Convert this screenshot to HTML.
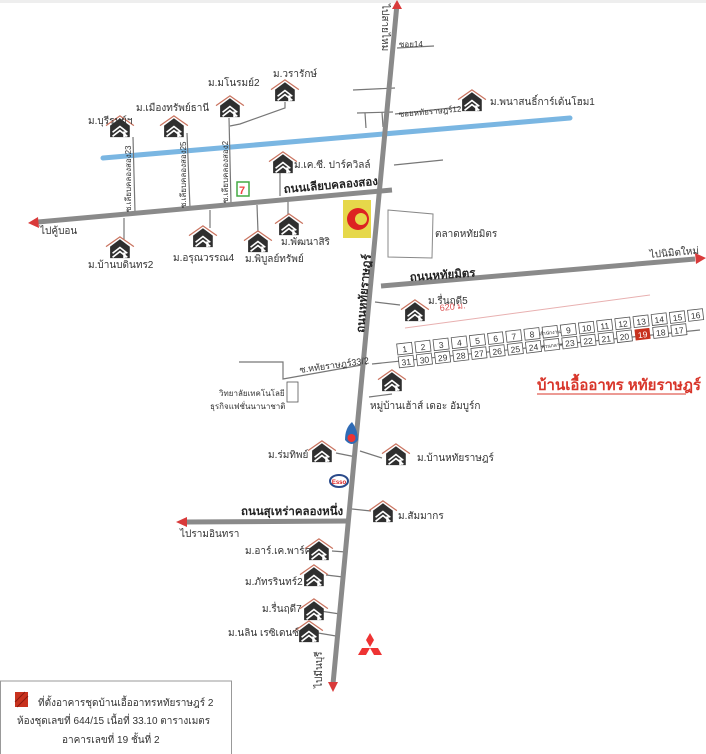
<!DOCTYPE html>
<html><head><meta charset="utf-8"><style>
html,body{margin:0;padding:0;background:#fff;}
svg{display:block;font-family:"Liberation Sans","Noto Sans CJK SC",sans-serif;}
.t{font-size:10px;fill:#333;}
.r{font-size:11.5px;fill:#222;font-weight:bold;}
.b{fill:#fff;stroke:#555;stroke-width:.8;}
.n{font-size:8.5px;fill:#333;text-anchor:middle;}
.c{stroke:#777;stroke-width:1.2;fill:none;}
</style></head><body>
<svg width="706" height="754" viewBox="0 0 706 754" xmlns="http://www.w3.org/2000/svg">
<defs>
<g id="h"><g transform="translate(3,3) scale(.82)">
<polyline points="0,13 17,1 34,13" fill="none" stroke="#c9735f" stroke-width="1.5"/>
<polygon points="5,13 17,4 29,13 29,27 5,27" fill="#2f2f2f"/>
<polyline points="8,21 17,14 26,21" fill="none" stroke="#fff" stroke-width="2"/>
<polyline points="8,26 17,19 26,26" fill="none" stroke="#fff" stroke-width="2"/>
<rect x="21" y="20" width="3" height="7" fill="#fff"/>
</g></g>
</defs>
<rect x="0" y="0" width="706" height="3" fill="#eee"/>
<line x1="103" y1="158" x2="570" y2="118" stroke="#7ab6e2" stroke-width="5" stroke-linecap="round"/>
<g class="c">
<line x1="133" y1="137" x2="135" y2="212"/>
<line x1="187" y1="133" x2="190" y2="208"/>
<line x1="229" y1="118" x2="231" y2="203"/>
<polyline points="285,102 285,108 240,124 230,126"/>
<line x1="353" y1="90" x2="395" y2="88"/>
<line x1="397" y1="48" x2="434" y2="46"/>
<line x1="395" y1="114" x2="460" y2="107"/>
<line x1="357" y1="113" x2="393" y2="112"/>
<line x1="365" y1="113" x2="366" y2="128"/>
<line x1="382" y1="112" x2="383" y2="127"/>
<line x1="394" y1="165" x2="443" y2="160"/>
<line x1="280" y1="168" x2="280" y2="196"/>
<line x1="124" y1="218" x2="124" y2="240"/>
<line x1="210" y1="210" x2="210" y2="228"/>
<line x1="257" y1="205" x2="258" y2="232"/>
<line x1="288" y1="200" x2="288" y2="215"/>
<line x1="375" y1="302" x2="400" y2="305"/>
<polyline points="239,362 283,362 283,379 367,364"/>
<line x1="372" y1="364" x2="700" y2="330"/>
<line x1="369" y1="397" x2="392" y2="394"/>
<line x1="336" y1="453" x2="356" y2="457"/>
<line x1="360" y1="451" x2="382" y2="458"/>
<line x1="352" y1="509" x2="371" y2="511"/>
<line x1="332" y1="551" x2="346" y2="552"/>
<line x1="326" y1="575" x2="343" y2="577"/>
<line x1="320" y1="611" x2="340" y2="614"/>
<line x1="318" y1="633" x2="336" y2="636"/>
</g>
<rect x="287" y="382" width="11" height="20" class="b"/>
<polygon points="388,210 433,214 432,258 388,257" fill="#fff" stroke="#888" stroke-width="1"/>
<g stroke="#8a8a8a" stroke-width="5" fill="none">
<line x1="397" y1="4" x2="333" y2="684"/>
<line x1="38" y1="222" x2="392" y2="190"/>
<line x1="381" y1="286" x2="695" y2="259"/>
<line x1="186" y1="522" x2="350" y2="521"/>
</g>
<g fill="#d93a3a">
<polygon points="397,0 392,9 402,9"/>
<polygon points="28,223 38,217 39,228"/>
<polygon points="706,258 695,253 696,264"/>
<polygon points="176,522 187,517 187,527"/>
<polygon points="333,692 328,682 338,682"/>
</g>
<use href="#h" x="103" y="112"/>
<use href="#h" x="157" y="112"/>
<use href="#h" x="213" y="92"/>
<use href="#h" x="268" y="76"/>
<use href="#h" x="266" y="148"/>
<use href="#h" x="455" y="86"/>
<use href="#h" x="103" y="233"/>
<use href="#h" x="186" y="222"/>
<use href="#h" x="241" y="227"/>
<use href="#h" x="272" y="210"/>
<use href="#h" x="398" y="296"/>
<use href="#h" x="375" y="366"/>
<use href="#h" x="305" y="437"/>
<use href="#h" x="379" y="440"/>
<use href="#h" x="366" y="497"/>
<use href="#h" x="302" y="535"/>
<use href="#h" x="297" y="561"/>
<use href="#h" x="297" y="595"/>
<use href="#h" x="292" y="617"/>
<g class="t">
<text x="88" y="124">ม.บุรีรมย์ฯ</text>
<text x="136" y="111">ม.เมืองทรัพย์ธานี</text>
<text x="208" y="86">ม.มโนรมย์2</text>
<text x="273" y="77">ม.วรารักษ์</text>
<text x="294" y="168">ม.เค.ซี. ปาร์ควิลล์</text>
<text x="490" y="105">ม.พนาสนธิ์การ์เด้นโฮม1</text>
<text x="88" y="268">ม.บ้านบดินทร2</text>
<text x="173" y="261">ม.อรุณวรรณ4</text>
<text x="245" y="262">ม.พิบูลย์ทรัพย์</text>
<text x="281" y="245">ม.พัฒนาสิริ</text>
<text x="428" y="304">ม.รื่นฤดี5</text>
<text x="370" y="409">หมู่บ้านเฮ้าส์ เดอะ อัมบูร์ก</text>
<text x="268" y="458">ม.ร่มทิพย์</text>
<text x="417" y="461">ม.บ้านหทัยราษฎร์</text>
<text x="398" y="519">ม.สัมมากร</text>
<text x="245" y="554">ม.อาร์.เค.พาร์ค</text>
<text x="245" y="585">ม.ภัทรรินทร์2</text>
<text x="262" y="612">ม.รื่นฤดี7</text>
<text x="228" y="636">ม.นลิน เรซิเดนซ์</text>
<text x="435" y="237">ตลาดหทัยมิตร</text>
<text x="219" y="396" style="font-size:8px">วิทยาลัยเทคโนโลยี</text>
<text x="210" y="409" style="font-size:8px">ธุรกิจแฟชั่นนานาชาติ</text>
<text x="399" y="47" style="font-size:8px">ซอย14</text>
<text x="399" y="117" style="font-size:8px" transform="rotate(-5 399 117)">ซอยหทัยราษฎร์12</text>
<text x="300" y="373" style="font-size:9px" transform="rotate(-8 300 373)">ซ.หทัยราษฎร์33/2</text>
<text x="40" y="234">ไปคู้บอน</text>
<text x="650" y="258" transform="rotate(-5 650 258)">ไปนิมิตใหม่</text>
<text x="180" y="537">ไปรามอินทรา</text>
</g>
<g class="t" style="font-size:8px">
<text transform="translate(131,212) rotate(-90)">ซ.เลียบคลองสอง23</text>
<text transform="translate(186,208) rotate(-90)">ซ.เลียบคลองสอง25</text>
<text transform="translate(228,203) rotate(-90)">ซ.เลียบคลองสอง2</text>
</g>
<g class="t">
<text transform="translate(382,4) rotate(90)">ไปสายไหม</text>
<text transform="translate(322,688) rotate(-90)">ไปมีนบุรี</text>
</g>
<text class="r" x="284" y="193" transform="rotate(-5 284 193)">ถนนเลียบคลองสอง</text>
<text class="r" x="410" y="281" transform="rotate(-4 410 281)">ถนนหทัยมิตร</text>
<text class="r" x="241" y="515">ถนนสุเหร่าคลองหนึ่ง</text>
<text class="r" transform="translate(364,333) rotate(-85)">ถนนหทัยราษฎร์</text>
<rect x="237" y="182" width="12" height="14" fill="#fff" stroke="#4a4" stroke-width="1.5"/>
<text x="239" y="194" style="font-size:11px;font-weight:bold;fill:#e44">7</text>
<rect x="343" y="200" width="28" height="38" fill="#e6d84a"/>
<circle cx="358" cy="219" r="11" fill="#d22"/>
<circle cx="361" cy="219" r="6" fill="#e6d84a"/>
<path d="M345,440 Q345,428 352,422 Q358,430 358,440 Q352,448 345,440Z" fill="#2f6bb5"/>
<circle cx="351.5" cy="438" r="4" fill="#e33"/>
<ellipse cx="339" cy="481" rx="9" ry="6" fill="#fff" stroke="#2a4a8a" stroke-width="2"/>
<text x="339" y="484" style="font-size:6px;fill:#d22;text-anchor:middle;font-weight:bold">Esso</text>
<g fill="#e33">
<polygon points="370,633 374,640 370,647 366,640"/>
<polygon points="370,648 362,648 358,655 366,655"/>
<polygon points="370,648 378,648 382,655 374,655"/>
</g>
<line x1="405" y1="328" x2="650" y2="295" stroke="#e8b0b0" stroke-width="1"/>
<text x="440" y="311" style="font-size:9px;fill:#d55" transform="rotate(-6 440 311)">620 ม.</text>
<g transform="rotate(-6.6 397 347)">
<g>
<rect class="b" x="397" y="344" width="15" height="11"/><text class="n" x="404.5" y="353">1</text>
<rect class="b" x="415.3" y="344" width="15" height="11"/><text class="n" x="422.8" y="353">2</text>
<rect class="b" x="433.6" y="344" width="15" height="11"/><text class="n" x="441.1" y="353">3</text>
<rect class="b" x="451.9" y="344" width="15" height="11"/><text class="n" x="459.4" y="353">4</text>
<rect class="b" x="470.2" y="344" width="15" height="11"/><text class="n" x="477.7" y="353">5</text>
<rect class="b" x="488.5" y="344" width="15" height="11"/><text class="n" x="496" y="353">6</text>
<rect class="b" x="506.8" y="344" width="15" height="11"/><text class="n" x="514.3" y="353">7</text>
<rect class="b" x="525.1" y="344" width="15" height="11"/><text class="n" x="532.6" y="353">8</text>
<rect class="b" x="543.4" y="344" width="15" height="11"/><text class="n" x="550.9" y="352" style="font-size:5px">สำนักงาน</text>
<rect class="b" x="561.7" y="344" width="15" height="11"/><text class="n" x="569.2" y="353">9</text>
<rect class="b" x="580" y="344" width="15" height="11"/><text class="n" x="587.5" y="353">10</text>
<rect class="b" x="598.3" y="344" width="15" height="11"/><text class="n" x="605.8" y="353">11</text>
<rect class="b" x="616.6" y="344" width="15" height="11"/><text class="n" x="624.1" y="353">12</text>
<rect class="b" x="634.9" y="344" width="15" height="11"/><text class="n" x="642.4" y="353">13</text>
<rect class="b" x="653.2" y="344" width="15" height="11"/><text class="n" x="660.7" y="353">14</text>
<rect class="b" x="671.5" y="344" width="15" height="11"/><text class="n" x="679" y="353">15</text>
<rect class="b" x="689.8" y="344" width="15" height="11"/><text class="n" x="697.3" y="353">16</text>
</g>
<g>
<rect class="b" x="397" y="357" width="15" height="11"/><text class="n" x="404.5" y="366">31</text>
<rect class="b" x="415.3" y="357" width="15" height="11"/><text class="n" x="422.8" y="366">30</text>
<rect class="b" x="433.6" y="357" width="15" height="11"/><text class="n" x="441.1" y="366">29</text>
<rect class="b" x="451.9" y="357" width="15" height="11"/><text class="n" x="459.4" y="366">28</text>
<rect class="b" x="470.2" y="357" width="15" height="11"/><text class="n" x="477.7" y="366">27</text>
<rect class="b" x="488.5" y="357" width="15" height="11"/><text class="n" x="496" y="366">26</text>
<rect class="b" x="506.8" y="357" width="15" height="11"/><text class="n" x="514.3" y="366">25</text>
<rect class="b" x="525.1" y="357" width="15" height="11"/><text class="n" x="532.6" y="366">24</text>
<rect class="b" x="543.4" y="357" width="15" height="11"/><text class="n" x="550.9" y="365" style="font-size:5px">ส่วนกลาง</text>
<rect class="b" x="561.7" y="357" width="15" height="11"/><text class="n" x="569.2" y="366">23</text>
<rect class="b" x="580" y="357" width="15" height="11"/><text class="n" x="587.5" y="366">22</text>
<rect class="b" x="598.3" y="357" width="15" height="11"/><text class="n" x="605.8" y="366">21</text>
<rect class="b" x="616.6" y="357" width="15" height="11"/><text class="n" x="624.1" y="366">20</text>
<rect x="634.9" y="357" width="15" height="11" fill="#c8321e"/><text class="n" x="642.4" y="366" style="fill:#fff">19</text>
<rect class="b" x="653.2" y="357" width="15" height="11"/><text class="n" x="660.7" y="366">18</text>
<rect class="b" x="671.5" y="357" width="15" height="11"/><text class="n" x="679" y="366">17</text>
</g>
</g>
<text x="537" y="390" style="font-size:15px;fill:#d8352a;font-weight:bold">บ้านเอื้ออาทร หทัยราษฎร์</text>
<line x1="537" y1="394" x2="686" y2="394" stroke="#d8352a" stroke-width="1"/>
<rect x="0.5" y="681" width="231" height="80" fill="#fff" stroke="#999" stroke-width="1"/>
<rect x="15" y="692" width="13" height="15" fill="#c8321e"/>
<g stroke="#8a1a10" stroke-width="1"><line x1="15" y1="702" x2="25" y2="692"/><line x1="17" y1="707" x2="28" y2="696"/></g>
<g class="t" style="font-size:10px">
<text x="38" y="706">ที่ตั้งอาคารชุดบ้านเอื้ออาทรหทัยราษฎร์ 2</text>
<text x="17" y="724">ห้องชุดเลขที่ 644/15 เนื้อที่ 33.10 ตารางเมตร</text>
<text x="62" y="743">อาคารเลขที่ 19  ชั้นที่ 2</text>
</g>
</svg>
</body></html>
